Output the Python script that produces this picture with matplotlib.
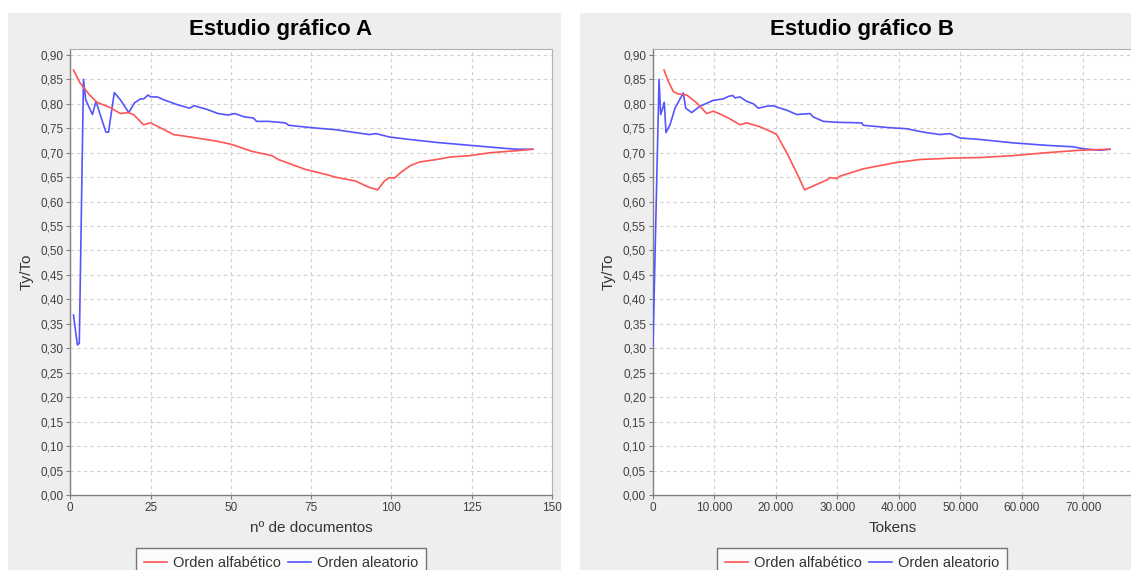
import matplotlib
matplotlib.use("Agg")
import matplotlib.pyplot as plt
from matplotlib.patches import Rectangle
from matplotlib.ticker import FuncFormatter, MultipleLocator

# --- data ---
# Estudio grafico A: x = number of documents
docs_alf = [1, 3, 6, 8.3, 12.5, 15.6, 18, 19.7, 22.8, 25, 28, 32.2, 38.5, 46, 50.2,
            56.4, 62.7, 64.8, 73.1, 80.5, 82.5, 88.8, 93.1, 95.7, 97.8, 99.4, 100.9,
            103, 106, 108.8, 114, 118.2, 124.5, 130.8, 139, 144]
tt_alf_a = [0.869, 0.843, 0.818, 0.803, 0.792, 0.780, 0.782, 0.778, 0.757, 0.761, 0.751,
            0.737, 0.731, 0.723, 0.717, 0.703, 0.694, 0.686, 0.666, 0.654, 0.650, 0.642,
            0.629, 0.624, 0.642, 0.649, 0.648, 0.660, 0.674, 0.681, 0.686, 0.691, 0.694,
            0.700, 0.704, 0.707]

docs_ale = [1, 2.2, 2.8, 4.1, 4.8, 6.9, 8, 9.3, 11.1, 11.9, 13.7, 15.6, 18.2, 20, 21.9,
            22.9, 24.2, 25, 27.1, 29.2, 33.4, 37.1, 38.6, 42.8, 46, 49.1, 51.2, 54.3, 57,
            58, 61.7, 66.9, 68, 75.3, 82.6, 88.9, 93.1, 95.2, 99.4, 105.7, 114, 124.5, 135,
            139.1, 144]
tt_ale_a = [0.368, 0.307, 0.310, 0.850, 0.808, 0.778, 0.805, 0.778, 0.742, 0.742, 0.823,
            0.808, 0.782, 0.802, 0.810, 0.810, 0.818, 0.814, 0.814, 0.808, 0.798, 0.791,
            0.796, 0.788, 0.780, 0.777, 0.780, 0.773, 0.771, 0.764, 0.764, 0.761, 0.756,
            0.751, 0.747, 0.741, 0.737, 0.739, 0.732, 0.727, 0.721, 0.715, 0.709, 0.707,
            0.707]

# Estudio grafico B: x = tokens
tok_alf = [1790, 2490, 3300, 4120, 5480, 7100, 8730, 9800, 11430, 12520, 14150, 15230,
           17400, 19570, 20110, 21740, 23360, 24650, 26070, 28240, 28780, 29860, 30410,
           34200, 39620, 43410, 48830, 53170, 58590, 64010, 69430, 74310]
tt_alf_b = [0.869, 0.846, 0.825, 0.820, 0.818, 0.802, 0.780, 0.785, 0.776, 0.769, 0.757,
            0.761, 0.753, 0.741, 0.737, 0.700, 0.659, 0.624, 0.632, 0.644, 0.649, 0.647,
            0.652, 0.667, 0.680, 0.686, 0.689, 0.690, 0.694, 0.700, 0.705, 0.707]

tok_ale = [0, 980, 1250, 1680, 1840, 2110, 2760, 3580, 4930, 5320, 6290, 7640, 9800,
           11430, 12240, 12960, 13330, 14150, 15230, 16310, 17130, 18490, 19570, 20650,
           21740, 23360, 25530, 26070, 27700, 30130, 33930, 34200, 38540, 41250, 43950,
           46670, 48290, 49920, 53170, 58590, 64010, 68350, 69970, 72680, 74310]
tt_ale_b = [0.306, 0.850, 0.778, 0.795, 0.803, 0.741, 0.757, 0.791, 0.822, 0.791, 0.782,
            0.795, 0.807, 0.810, 0.815, 0.817, 0.812, 0.814, 0.805, 0.800, 0.791, 0.795,
            0.796, 0.791, 0.787, 0.778, 0.780, 0.773, 0.764, 0.762, 0.761, 0.756, 0.751,
            0.749, 0.742, 0.737, 0.739, 0.730, 0.727, 0.720, 0.715, 0.712, 0.708, 0.705,
            0.707]

series_names = ["Orden alfabético", "Orden aleatorio"]
titles = ["Estudio gráfico A", "Estudio gráfico B"]
xlabels = ["nº de documentos", "Tokens"]

W, H = 1131, 570
RED = "#FF5555"
BLUE = "#5555FF"
PANEL = "#EEEEEE"

plt.rcParams["font.family"] = ["Liberation Sans", "DejaVu Sans"]

fig = plt.figure(figsize=(W / 100, H / 100), dpi=100, facecolor="white")


def px_rect(x0, y0, x1, y1):
    # pixel box (top-left origin) -> figure fraction [l, b, w, h]
    return [x0 / W, 1 - y1 / H, (x1 - x0) / W, (y1 - y0) / H]


def comma_dec(v, pos):
    return f"{v:.2f}".replace(".", ",")


def thousands(v, pos):
    return f"{int(round(v)):,}".replace(",", ".")


panels = [(8, 13, 561, 600), (580, 13, 1140, 600)]
plots = [(70.3, 49, 552, 495), (653, 49, 1133, 495)]
centers = [281, 862]
xlims = [(0, 150), (0, 78050)]
xsteps = [25, 10000]
xfmts = [FuncFormatter(lambda v, p: f"{int(round(v))}"), FuncFormatter(thousands)]
data = [((docs_alf, tt_alf_a), (docs_ale, tt_ale_a)),
        ((tok_alf, tt_alf_b), (tok_ale, tt_ale_b))]

for i in range(2):
    px0, py0, px1, py1 = panels[i]
    l, b, w, h = px_rect(px0, py0, px1, py1)
    fig.add_artist(Rectangle((l, b), w, h, transform=fig.transFigure,
                             facecolor=PANEL, edgecolor="none", zorder=0))

    ax = fig.add_axes(px_rect(*plots[i]))
    ax.set_facecolor("white")
    (xa, ya), (xb, yb) = data[i]
    line_b, = ax.plot(xb, yb, color=BLUE, lw=1.2, zorder=3)
    line_a, = ax.plot(xa, ya, color=RED, lw=1.2, zorder=4)

    ax.set_xlim(*xlims[i])
    ax.set_ylim(0, 0.912)
    ax.xaxis.set_major_locator(MultipleLocator(xsteps[i]))
    ax.yaxis.set_major_locator(MultipleLocator(0.05))
    ax.xaxis.set_major_formatter(xfmts[i])
    ax.yaxis.set_major_formatter(FuncFormatter(comma_dec))
    ax.grid(True, color="#D0D0D0", linestyle=(0, (3, 3)), linewidth=0.8)
    ax.set_axisbelow(True)
    for side in ["top", "right"]:
        ax.spines[side].set_color("#B0B0B0")
        ax.spines[side].set_linewidth(0.8)
    for side in ["left", "bottom"]:
        ax.spines[side].set_color("#808080")
        ax.spines[side].set_linewidth(1.0)
    ax.tick_params(axis="both", direction="out", length=3, width=0.8,
                   color="#808080", labelsize=8.5, labelcolor="#404040", pad=2)

    ax.set_xlabel(xlabels[i], fontsize=11, color="#333333", labelpad=5)
    ax.set_ylabel("Ty/To", fontsize=11, color="#333333", labelpad=5)
    cx = centers[i]
    fig.text(cx / W, 1 - 30 / H, titles[i], ha="center", va="center",
             fontsize=16, fontweight="bold", color="black")

    leg = fig.legend([line_a, line_b], series_names,
                     loc="upper center", bbox_to_anchor=(cx / W, 1 - 548 / H),
                     ncol=2, fontsize=10.5, frameon=True, fancybox=False,
                     handlelength=1.6, handletextpad=0.4, columnspacing=0.5,
                     borderpad=0.55, borderaxespad=0)
    leg.get_frame().set_edgecolor("#555555")
    leg.get_frame().set_linewidth(1.0)
    for t in leg.get_texts():
        t.set_color("#333333")

fig.savefig("out.png", dpi=100, facecolor="white")
